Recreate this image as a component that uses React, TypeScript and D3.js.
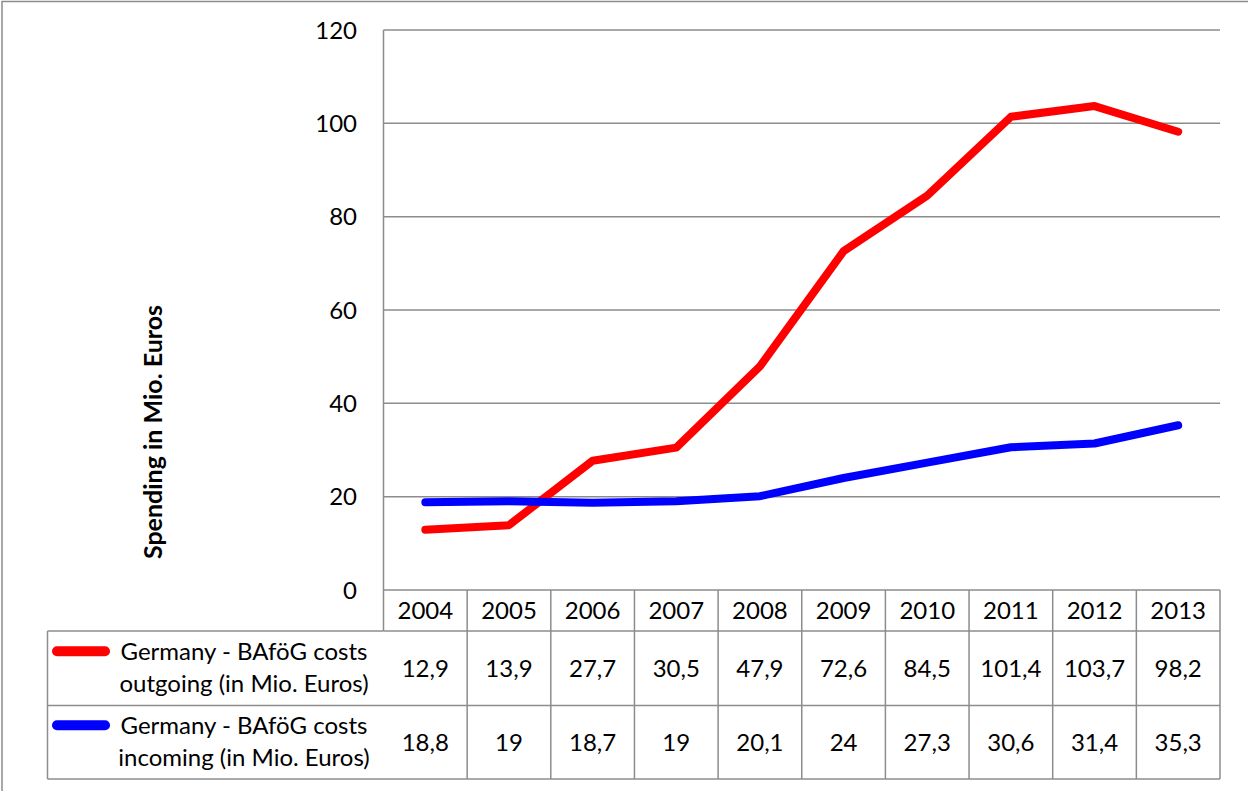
import React from "react";
import * as d3 from "d3";

// Years shown on the category axis / table header
const years = ["2004", "2005", "2006", "2007", "2008", "2009", "2010", "2011", "2012", "2013"];
// BAföG costs, outgoing students (Mio. Euros)
const outgoing = [12.9, 13.9, 27.7, 30.5, 47.9, 72.6, 84.5, 101.4, 103.7, 98.2];
// BAföG costs, incoming students (Mio. Euros)
const incoming = [18.8, 19, 18.7, 19, 20.1, 24, 27.3, 30.6, 31.4, 35.3];
const yTicks = [0, 20, 40, 60, 80, 100, 120];
const seriesNames = [
  ["Germany - BAföG costs", "outgoing (in Mio. Euros)"],
  ["Germany - BAföG costs", "incoming (in Mio. Euros)"],
];
const seriesColors = ["#ff0000", "#0000ff"];

const W = 1248;
const H = 791;
const FONT = "Lato, 'Open Sans', sans-serif";
const GRID = "#8c8c8c";
const FS = 24;

export default function App() {
  const left = 383.5;
  const right = 1220;
  const top = 30;
  const bottom = 590;

  const x = d3.scaleBand<string>().domain(years).range([left, right]).padding(0);
  const y = d3.scaleLinear().domain([0, 120]).range([bottom, top]);
  const cx = (i: number) => (x(years[i]) as number) + x.bandwidth() / 2;

  const line = d3
    .line<number>()
    .x((_, i) => cx(i))
    .y((d) => y(d));

  const fmt = (v: number) => String(v).replace(".", ",");

  const headerBottom = 631;
  const rowBottoms = [705.5, 779];
  const legendLeft = 47.5;
  const data = [outgoing, incoming];

  return (
    <svg
      width={W}
      height={H}
      style={{ position: "absolute", left: 0, top: 0, background: "#fff" }}
      fontFamily={FONT}
    >
      {/* chart frame */}
      <rect x={2} y={1.5} width={W + 10} height={H + 10} fill="#fff" stroke={GRID} strokeWidth={1.5} />

      {/* horizontal gridlines */}
      {yTicks.map((t) => (
        <line key={t} x1={left} x2={right} y1={y(t)} y2={y(t)} stroke={GRID} strokeWidth={1.5} />
      ))}
      {/* value axis line */}
      <line x1={left} x2={left} y1={top} y2={headerBottom} stroke={GRID} strokeWidth={1.5} />

      {/* value axis labels */}
      {yTicks.map((t) => (
        <text key={t} x={357} y={y(t)} dy="0.36em" textAnchor="end" fontSize={FS} fill="#000">
          {t}
        </text>
      ))}

      {/* value axis title */}
      <text
        transform={`translate(162, 432) rotate(-90)`}
        textAnchor="middle"
        fontSize={25}
        fontWeight="bold"
        fill="#000"
      >
        Spending in Mio. Euros
      </text>

      {/* series lines */}
      {data.map((d, k) => (
        <path
          key={k}
          d={line(d) as string}
          fill="none"
          stroke={seriesColors[k]}
          strokeWidth={8}
          strokeLinecap="round"
          strokeLinejoin="round"
        />
      ))}

      {/* data table: header row */}
      <line x1={left} x2={right} y1={headerBottom} y2={headerBottom} stroke={GRID} strokeWidth={1.5} />
      <line x1={right} x2={right} y1={bottom} y2={rowBottoms[1]} stroke={GRID} strokeWidth={1.5} />
      {years.map((yr, i) => (
        <g key={yr}>
          {i > 0 && (
            <line
              x1={x(yr) as number}
              x2={x(yr) as number}
              y1={bottom}
              y2={rowBottoms[1]}
              stroke={GRID}
              strokeWidth={1.5}
            />
          )}
          <text x={cx(i)} y={610} dy="0.36em" textAnchor="middle" fontSize={FS} fill="#000">
            {yr}
          </text>
        </g>
      ))}

      {/* data table: series rows */}
      <line x1={legendLeft} x2={legendLeft} y1={headerBottom} y2={rowBottoms[1]} stroke={GRID} strokeWidth={1.5} />
      <line x1={legendLeft} x2={left} y1={headerBottom} y2={headerBottom} stroke={GRID} strokeWidth={1.5} />
      {data.map((d, k) => {
        const rTop = k === 0 ? headerBottom : rowBottoms[0];
        const rBot = rowBottoms[k];
        const mid = (rTop + rBot) / 2;
        return (
          <g key={k}>
            <line x1={legendLeft} x2={right} y1={rBot} y2={rBot} stroke={GRID} strokeWidth={1.5} />
            <line
              x1={57}
              x2={105}
              y1={mid - 17}
              y2={mid - 17}
              stroke={seriesColors[k]}
              strokeWidth={10}
              strokeLinecap="round"
            />
            <text x={244} y={mid - 17} dy="0.36em" textAnchor="middle" fontSize={FS} fill="#000">
              {seriesNames[k][0]}
            </text>
            <text x={244} y={mid + 15} dy="0.36em" textAnchor="middle" fontSize={FS} fill="#000">
              {seriesNames[k][1]}
            </text>
            {d.map((v, i) => (
              <text key={i} x={cx(i)} y={mid} dy="0.36em" textAnchor="middle" fontSize={FS} fill="#000">
                {fmt(v)}
              </text>
            ))}
          </g>
        );
      })}
    </svg>
  );
}
